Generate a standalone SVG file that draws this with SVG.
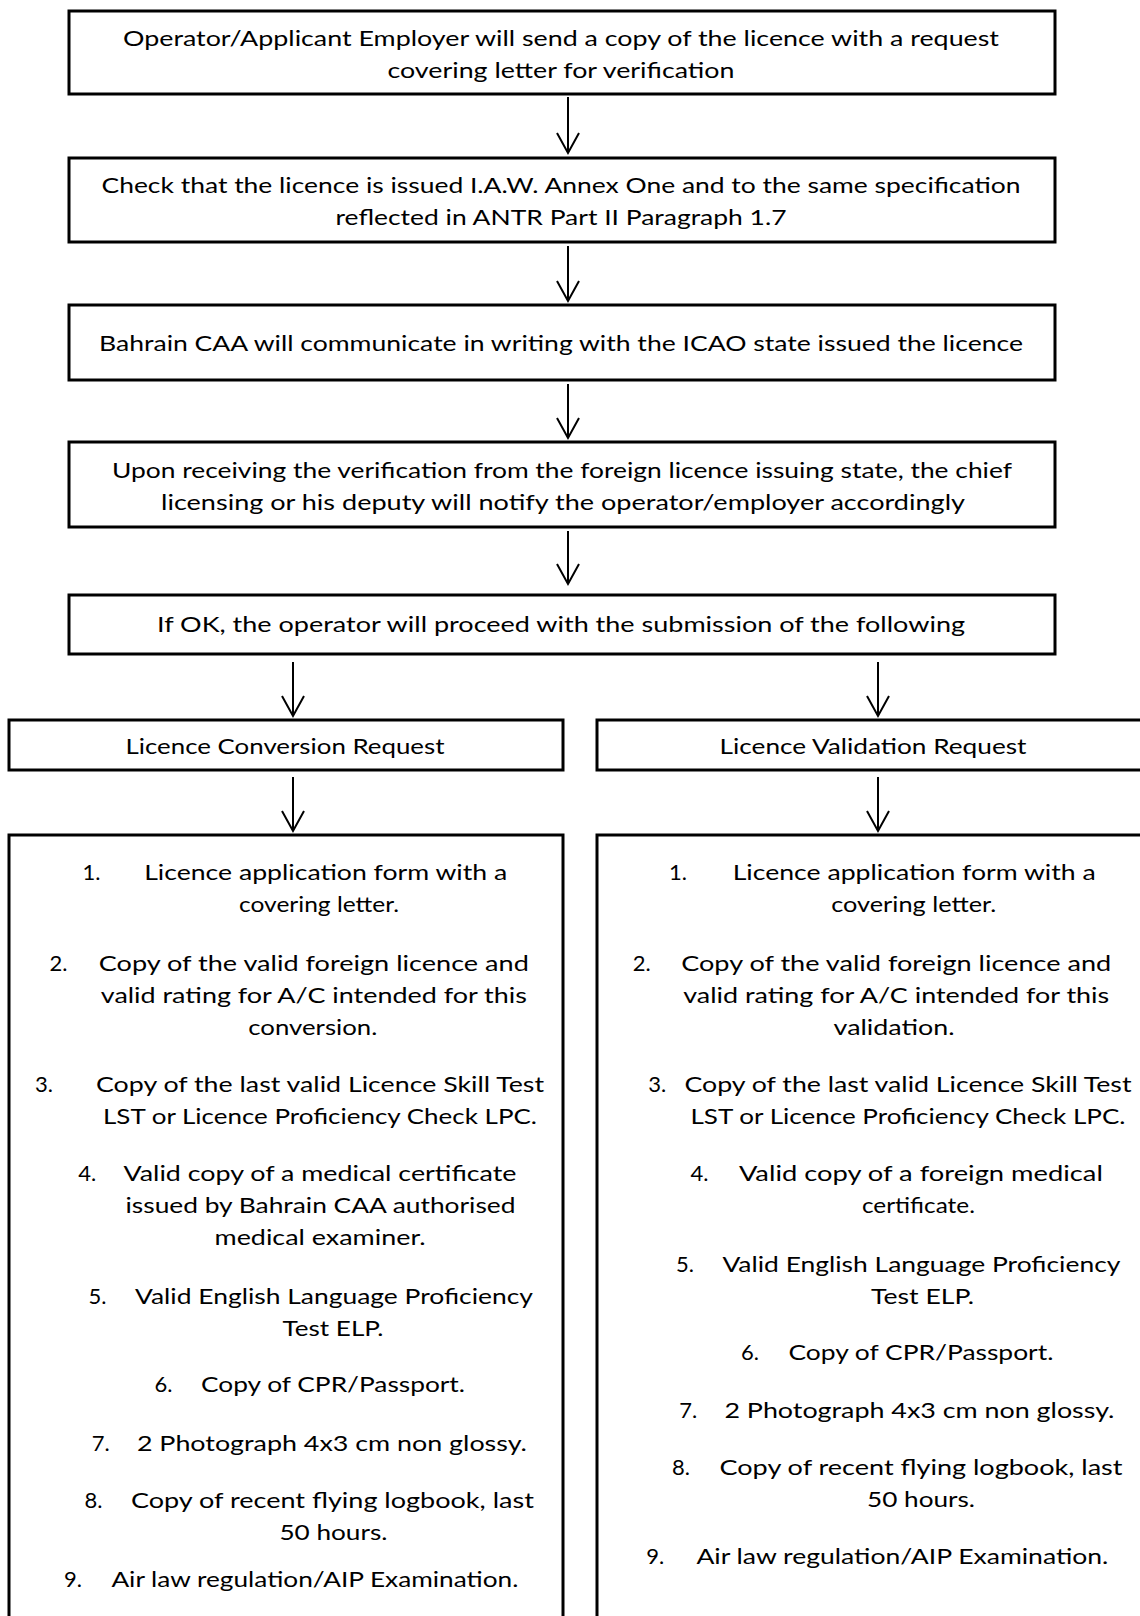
<svg xmlns="http://www.w3.org/2000/svg" width="1140" height="1616" viewBox="0 0 1140 1616">
<style>
.box{fill:#fff;stroke:#000;stroke-width:3}
.t{font-family:Lato,"Open Sans","Liberation Sans",sans-serif;font-size:22px;fill:#000}
.m{text-anchor:middle}
.c{fill:none;stroke:#000;stroke-width:2}
</style>
<defs>
<marker id="ah" viewBox="0 0 24 26" refX="21" refY="12" markerWidth="24" markerHeight="26" markerUnits="userSpaceOnUse" orient="auto">
<path d="M1,1 L21,12 L1,23" fill="none" stroke="#000" stroke-width="2"/>
</marker>
</defs>
<rect width="1140" height="1616" fill="#fff"/>
<g id="connectors">
<line class="c" x1="568" y1="97" x2="568" y2="153" marker-end="url(#ah)"/>
<line class="c" x1="568" y1="246" x2="568" y2="301" marker-end="url(#ah)"/>
<line class="c" x1="568" y1="384" x2="568" y2="438" marker-end="url(#ah)"/>
<line class="c" x1="568" y1="531" x2="568" y2="584" marker-end="url(#ah)"/>
<line class="c" x1="293" y1="662" x2="293" y2="716" marker-end="url(#ah)"/>
<line class="c" x1="878" y1="662" x2="878" y2="716" marker-end="url(#ah)"/>
<line class="c" x1="293" y1="777" x2="293" y2="831" marker-end="url(#ah)"/>
<line class="c" x1="878" y1="777" x2="878" y2="831" marker-end="url(#ah)"/>
</g>
<g id="n1">
<rect class="box" x="69" y="11" width="986" height="83"/>
<text class="t m" x="561" y="46" textLength="876" lengthAdjust="spacingAndGlyphs">Operator/Applicant Employer will send a copy of the licence with a request</text>
<text class="t m" x="561" y="78" textLength="347" lengthAdjust="spacingAndGlyphs">covering letter for verification</text>
</g>
<g id="n2">
<rect class="box" x="69" y="158" width="986" height="84"/>
<text class="t m" x="561" y="193" textLength="919" lengthAdjust="spacingAndGlyphs">Check that the licence is issued I.A.W. Annex One and to the same specification</text>
<text class="t m" x="561" y="225" textLength="451" lengthAdjust="spacingAndGlyphs">reflected in ANTR Part II Paragraph 1.7</text>
</g>
<g id="n3">
<rect class="box" x="69" y="305" width="986" height="75"/>
<text class="t m" x="561" y="351" textLength="924" lengthAdjust="spacingAndGlyphs">Bahrain CAA will communicate in writing with the ICAO state issued the licence</text>
</g>
<g id="n4">
<rect class="box" x="69" y="442" width="986" height="85"/>
<text class="t m" x="562" y="478" textLength="900" lengthAdjust="spacingAndGlyphs">Upon receiving the verification from the foreign licence issuing state, the chief</text>
<text class="t m" x="563" y="510" textLength="804" lengthAdjust="spacingAndGlyphs">licensing or his deputy will notify the operator/employer accordingly</text>
</g>
<g id="n5">
<rect class="box" x="69" y="595" width="986" height="59"/>
<text class="t m" x="561" y="632" textLength="808" lengthAdjust="spacingAndGlyphs">If OK, the operator will proceed with the submission of the following</text>
</g>
<g id="n6">
<rect class="box" x="9" y="720" width="554" height="50"/>
<text class="t m" x="285" y="754" textLength="319" lengthAdjust="spacingAndGlyphs">Licence Conversion Request</text>
</g>
<g id="n7">
<rect class="box" x="597" y="720" width="560" height="50"/>
<text class="t m" x="873" y="754" textLength="307" lengthAdjust="spacingAndGlyphs">Licence Validation Request</text>
</g>
<g id="n8">
<rect class="box" x="9" y="835" width="554" height="800"/>
<text class="t" x="82.5" y="880">1.</text>
<text class="t m" x="325.7" y="880" textLength="363" lengthAdjust="spacingAndGlyphs">Licence application form with a</text>
<text class="t m" x="319" y="912" textLength="160" lengthAdjust="spacingAndGlyphs">covering letter.</text>
<text class="t" x="49.5" y="971">2.</text>
<text class="t m" x="313.8" y="971" textLength="430" lengthAdjust="spacingAndGlyphs">Copy of the valid foreign licence and</text>
<text class="t m" x="313.8" y="1003" textLength="426" lengthAdjust="spacingAndGlyphs">valid rating for A/C intended for this</text>
<text class="t m" x="312.8" y="1035" textLength="129" lengthAdjust="spacingAndGlyphs">conversion.</text>
<text class="t" x="35" y="1092">3.</text>
<text class="t m" x="320" y="1092" textLength="448" lengthAdjust="spacingAndGlyphs">Copy of the last valid Licence Skill Test</text>
<text class="t m" x="320" y="1124" textLength="434" lengthAdjust="spacingAndGlyphs">LST or Licence Proficiency Check LPC.</text>
<text class="t" x="78.3" y="1181">4.</text>
<text class="t m" x="320" y="1181" textLength="393" lengthAdjust="spacingAndGlyphs">Valid copy of a medical certificate</text>
<text class="t m" x="320.5" y="1213" textLength="390" lengthAdjust="spacingAndGlyphs">issued by Bahrain CAA authorised</text>
<text class="t m" x="320" y="1245" textLength="211" lengthAdjust="spacingAndGlyphs">medical examiner.</text>
<text class="t" x="88.6" y="1304">5.</text>
<text class="t m" x="334" y="1304" textLength="398" lengthAdjust="spacingAndGlyphs">Valid English Language Proficiency</text>
<text class="t m" x="333" y="1336" textLength="101" lengthAdjust="spacingAndGlyphs">Test ELP.</text>
<text class="t" x="154.6" y="1392">6.</text>
<text class="t m" x="333" y="1392" textLength="264" lengthAdjust="spacingAndGlyphs">Copy of CPR/Passport.</text>
<text class="t" x="91.7" y="1451">7.</text>
<text class="t m" x="331.9" y="1451" textLength="390" lengthAdjust="spacingAndGlyphs">2 Photograph 4x3 cm non glossy.</text>
<text class="t" x="84.5" y="1508">8.</text>
<text class="t m" x="332.4" y="1508" textLength="403" lengthAdjust="spacingAndGlyphs">Copy of recent flying logbook, last</text>
<text class="t m" x="333.4" y="1540" textLength="108" lengthAdjust="spacingAndGlyphs">50 hours.</text>
<text class="t" x="63.9" y="1587">9.</text>
<text class="t m" x="314.9" y="1587" textLength="407" lengthAdjust="spacingAndGlyphs">Air law regulation/AIP Examination.</text>
</g>
<g id="n9">
<rect class="box" x="597" y="835" width="560" height="800"/>
<text class="t" x="668.9" y="880">1.</text>
<text class="t m" x="914.2" y="880" textLength="363" lengthAdjust="spacingAndGlyphs">Licence application form with a</text>
<text class="t m" x="913.7" y="912" textLength="165" lengthAdjust="spacingAndGlyphs">covering letter.</text>
<text class="t" x="632.8" y="971">2.</text>
<text class="t m" x="896.2" y="971" textLength="430" lengthAdjust="spacingAndGlyphs">Copy of the valid foreign licence and</text>
<text class="t m" x="896.2" y="1003" textLength="426" lengthAdjust="spacingAndGlyphs">valid rating for A/C intended for this</text>
<text class="t m" x="894.1" y="1035" textLength="121" lengthAdjust="spacingAndGlyphs">validation.</text>
<text class="t" x="648.3" y="1092">3.</text>
<text class="t m" x="908" y="1092" textLength="447" lengthAdjust="spacingAndGlyphs">Copy of the last valid Licence Skill Test</text>
<text class="t m" x="908" y="1124" textLength="435" lengthAdjust="spacingAndGlyphs">LST or Licence Proficiency Check LPC.</text>
<text class="t" x="690.6" y="1181">4.</text>
<text class="t m" x="920.9" y="1181" textLength="364" lengthAdjust="spacingAndGlyphs">Valid copy of a foreign medical</text>
<text class="t m" x="918.4" y="1213" textLength="113" lengthAdjust="spacingAndGlyphs">certificate.</text>
<text class="t" x="676.1" y="1272">5.</text>
<text class="t m" x="921.4" y="1272" textLength="398" lengthAdjust="spacingAndGlyphs">Valid English Language Proficiency</text>
<text class="t m" x="922.5" y="1304" textLength="103" lengthAdjust="spacingAndGlyphs">Test ELP.</text>
<text class="t" x="741" y="1360">6.</text>
<text class="t m" x="920.9" y="1360" textLength="265" lengthAdjust="spacingAndGlyphs">Copy of CPR/Passport.</text>
<text class="t" x="679.2" y="1418">7.</text>
<text class="t m" x="919.4" y="1418" textLength="390" lengthAdjust="spacingAndGlyphs">2 Photograph 4x3 cm non glossy.</text>
<text class="t" x="672" y="1475">8.</text>
<text class="t m" x="921" y="1475" textLength="403" lengthAdjust="spacingAndGlyphs">Copy of recent flying logbook, last</text>
<text class="t m" x="921" y="1507" textLength="108" lengthAdjust="spacingAndGlyphs">50 hours.</text>
<text class="t" x="646.2" y="1564">9.</text>
<text class="t m" x="902.4" y="1564" textLength="412" lengthAdjust="spacingAndGlyphs">Air law regulation/AIP Examination.</text>
</g>
</svg>
